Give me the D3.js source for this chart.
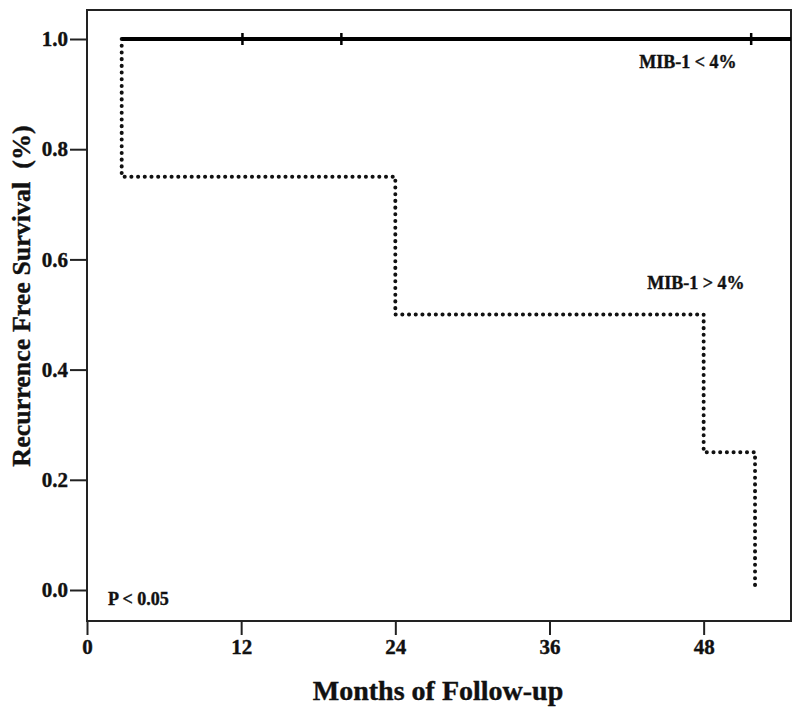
<!DOCTYPE html>
<html>
<head>
<meta charset="utf-8">
<script src="https://cdn.jsdelivr.net/npm/d3@7"></script>
<style>
  html, body { margin: 0; padding: 0; background: #fff; }
  svg { display: block; }
  text { font-family: "Liberation Serif", "Times New Roman", serif; font-weight: bold; fill: #111; stroke: #111; stroke-width: 0.4px; }
</style>
</head>
<body>
<svg id="chart" width="800" height="714"></svg>
<script>
// ---- Data ----
const xTicks = [0, 12, 24, 36, 48];
const yTicks = [0.0, 0.2, 0.4, 0.6, 0.8, 1.0];
// MIB-1 > 4% step curve: event times and survival after each
const highTimes = [0, 2.7, 24, 48, 52];
const highSurv = [1.0, 0.75, 0.5, 0.25, 0.0];
// MIB-1 < 4% curve
const lowTimes = [2.7, 54.8];
const lowSurv = [1.0, 1.0];
const lowCensor = [12.1, 19.8, 51.7];
const labels = ["MIB-1 < 4%", "MIB-1 > 4%", "P < 0.05"];

const svg = d3.select("#chart");
const x = d3.scaleLinear().domain([0, 54.8]).range([87, 791]);
const y = d3.scaleLinear().domain([0, 1]).range([590, 39]);
const frameTop = 10, frameBottom = 621;

// frame
svg.append("rect").attr("x", x(0)).attr("y", frameTop)
  .attr("width", x(54.8) - x(0)).attr("height", frameBottom - frameTop)
  .attr("fill", "none").attr("stroke", "#222").attr("stroke-width", 2);

// y axis
const yAxis = d3.axisLeft(y).tickValues(yTicks).tickFormat(d3.format(".1f")).tickSize(17).tickPadding(2);
const gy = svg.append("g").attr("transform", `translate(${x(0)},0)`).call(yAxis);
gy.select(".domain").remove();
gy.selectAll("line").attr("stroke", "#222").attr("stroke-width", 2);
gy.selectAll("text").attr("font-size", 21).attr("font-family", "Liberation Serif").attr("font-weight", "bold").attr("fill", "#111");

// x axis
const xAxis = d3.axisBottom(x).tickValues(xTicks).tickFormat(d3.format("d")).tickSize(14).tickPadding(4);
const gx = svg.append("g").attr("transform", `translate(0,${frameBottom})`).call(xAxis);
gx.select(".domain").remove();
gx.selectAll("line").attr("stroke", "#222").attr("stroke-width", 2);
gx.selectAll("text").attr("font-size", 21).attr("font-family", "Liberation Serif").attr("font-weight", "bold").attr("fill", "#111");

// high curve (dotted), starting at first drop
const hiPts = [];
for (let i = 1; i < highTimes.length; i++) {
  hiPts.push([highTimes[i], highSurv[i - 1]]);
  hiPts.push([highTimes[i], highSurv[i]]);
  if (i < highTimes.length - 1) hiPts.push([highTimes[i + 1], highSurv[i]]);
}
svg.append("path")
  .attr("d", d3.line().x(d => x(d[0])).y(d => y(d[1]))(hiPts))
  .attr("fill", "none").attr("stroke", "#111").attr("stroke-width", 4)
  .attr("stroke-linecap", "round").attr("stroke-linejoin", "round")
  .attr("stroke-dasharray", "0.1 6.6");

// low curve (solid)
svg.append("path")
  .attr("d", d3.line().x((d, i) => x(lowTimes[i])).y(d => y(d))(lowSurv))
  .attr("fill", "none").attr("stroke", "#000").attr("stroke-width", 4);

// censor marks
svg.selectAll(".cens").data(lowCensor).enter().append("line")
  .attr("x1", d => x(d)).attr("x2", d => x(d))
  .attr("y1", y(1) - 6).attr("y2", y(1) + 6)
  .attr("stroke", "#000").attr("stroke-width", 2.5);

// annotations
svg.append("text").attr("x", 688).attr("y", 68).attr("text-anchor", "middle")
  .attr("font-size", 18).text(labels[0]);
svg.append("text").attr("x", 696).attr("y", 289).attr("text-anchor", "middle")
  .attr("font-size", 18).text(labels[1]);
svg.append("text").attr("x", 108).attr("y", 605).attr("text-anchor", "start")
  .attr("font-size", 18).text(labels[2]);

// axis titles
svg.append("text").attr("x", 438).attr("y", 700).attr("text-anchor", "middle")
  .attr("font-size", 28).text("Months of Follow-up");
svg.append("text").attr("transform", "translate(30,296) rotate(-90)")
  .attr("text-anchor", "middle").attr("font-size", 26)
  .attr("xml:space", "preserve").style("white-space", "pre")
  .text("Recurrence Free Survival  (%)");
</script>
</body>
</html>
